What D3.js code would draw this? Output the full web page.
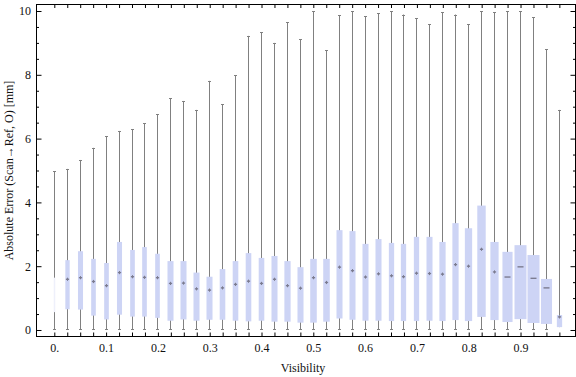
<!DOCTYPE html>
<meta charset="utf-8" />
<title>Absolute error vs visibility</title>
<style>
  body {
    margin: 0;
    background: #fff;
  }

  text {
    font-family: "Liberation Serif", "DejaVu Serif", serif;
    fill: #111;
  }

  .whisker {
    stroke: #808080;
    stroke-width: 1px;
    fill: none;
  }

  .box {
    fill: #cdd4f5;
  }

  .median {
    stroke: #7c7c90;
    stroke-width: 1.4px;
  }

  .frame {
    fill: none;
    stroke: #000;
    stroke-width: 1px;
  }

  .axis path {
    display: none;
  }

  .axis line {
    stroke: #000;
  }
</style>

<body>
  <script src="https://d3js.org/d3.v7.min.js"></script>
  <script>
    var width = 576,
      height = 377;

    // frame edges (pixels)
    var frame = { left: 36.5, right: 575.5, top: 4.5, bottom: 336.5 };

    // one box per visibility bin
    var visibility = [
      0, 0.025, 0.05, 0.075, 0.1, 0.125, 0.15, 0.175, 0.2, 0.225,
      0.25, 0.275, 0.3, 0.325, 0.35, 0.375, 0.4, 0.425, 0.45, 0.475,
      0.5, 0.525, 0.55, 0.575, 0.6, 0.625, 0.65, 0.675, 0.7, 0.725,
      0.75, 0.775, 0.8, 0.825, 0.85, 0.875, 0.9, 0.925, 0.95, 0.975,
    ];

    var whiskerMax = [
      4.98, 5.05, 5.33, 5.71, 6.07, 6.24, 6.3, 6.48, 6.76, 7.26,
      7.18, 6.9, 7.81, 7.07, 7.98, 9.22, 9.33, 9.0, 9.65, 9.11,
      9.99, 8.77, 9.86, 10.0, 9.84, 9.93, 9.99, 9.89, 9.77, 9.58,
      9.96, 9.89, 9.58, 9.99, 9.96, 10.0, 10.0, 9.8, 8.8, 6.9,
    ];

    var upperQuartile = [
      1.64, 2.19, 2.47, 2.23, 2.1, 2.76, 2.51, 2.6, 2.39, 2.16,
      2.16, 1.8, 1.67, 1.91, 2.16, 2.41, 2.26, 2.32, 2.16, 1.97,
      2.23, 2.23, 3.13, 3.1, 2.7, 2.85, 2.73, 2.7, 2.92, 2.92,
      2.76, 3.35, 3.19, 3.9, 2.76, 2.45, 2.66, 2.35, 1.6, 0.47,
    ];

    var median = [
      1.17, 1.59, 1.64, 1.52, 1.39, 1.8, 1.67, 1.65, 1.64, 1.46,
      1.47, 1.29, 1.25, 1.32, 1.43, 1.53, 1.46, 1.59, 1.39, 1.31,
      1.64, 1.49, 1.97, 1.86, 1.66, 1.76, 1.7, 1.67, 1.78, 1.77,
      1.75, 2.05, 2.0, 2.53, 1.82, 1.66, 1.98, 1.62, 1.32, 0.41,
    ];

    var lowerQuartile = [
      0.56, 0.65, 0.64, 0.45, 0.33, 0.48, 0.42, 0.42, 0.38, 0.29,
      0.33, 0.29, 0.32, 0.32, 0.29, 0.27, 0.29, 0.26, 0.26, 0.23,
      0.23, 0.26, 0.36, 0.32, 0.29, 0.29, 0.28, 0.28, 0.28, 0.29,
      0.28, 0.31, 0.28, 0.41, 0.31, 0.25, 0.34, 0.22, 0.19, 0.09,
    ];

    var whiskerMin = [
      0, 0, 0, 0, 0, 0, 0, 0, 0, 0,
      0, 0, 0, 0, 0, 0, 0, 0, 0, 0,
      0, 0, 0, 0, 0, 0, 0, 0, 0, 0,
      0, 0, 0, 0, 0, 0, 0, 0, 0, 0.09,
    ];

    // relative box width (sample weight of the bin)
    var boxWeight = [
      0, 0.27, 0.34, 0.3, 0.3, 0.34, 0.3, 0.3, 0.3, 0.43,
      0.43, 0.43, 0.43, 0.39, 0.39, 0.39, 0.39, 0.43, 0.45, 0.43,
      0.48, 0.48, 0.43, 0.43, 0.43, 0.43, 0.36, 0.36, 0.36, 0.43,
      0.45, 0.45, 0.55, 0.66, 0.64, 0.82, 1.0, 1.0, 0.91, 0.36,
    ];

    var xTickLabels = [0, 0.1, 0.2, 0.3, 0.4, 0.5, 0.6, 0.7, 0.8, 0.9];
    var yTickLabels = [0, 2, 4, 6, 8, 10];

    var rows = visibility.map(function (v, i) {
      return {
        v: v,
        max: whiskerMax[i],
        q3: upperQuartile[i],
        med: median[i],
        q1: lowerQuartile[i],
        min: whiskerMin[i],
        w: boxWeight[i],
      };
    });

    var x = d3
      .scaleLinear()
      .domain([-0.0334, 1.0071])
      .range([frame.left, frame.right]);

    var y = d3
      .scaleLinear()
      .domain([-0.204, 10.204])
      .range([frame.bottom, frame.top]);

    var boxW = d3.scaleLinear().domain([0, 1]).range([1.5, 12]);

    var svg = d3
      .select("body")
      .append("svg")
      .attr("width", width)
      .attr("height", height);

    var box = svg
      .selectAll(".bw")
      .data(rows)
      .enter()
      .append("g")
      .attr("class", "bw");

    // whisker lines
    box
      .append("line")
      .attr("class", "whisker")
      .attr("x1", function (d) { return Math.round(x(d.v)) + 0.5; })
      .attr("x2", function (d) { return Math.round(x(d.v)) + 0.5; })
      .attr("y1", function (d) { return y(d.max); })
      .attr("y2", function (d) { return y(d.min); });

    // caps
    box
      .append("line")
      .attr("class", "whisker")
      .attr("x1", function (d) { return Math.round(x(d.v)) - 1; })
      .attr("x2", function (d) { return Math.round(x(d.v)) + 2; })
      .attr("y1", function (d) { return Math.round(y(d.max)) + 0.5; })
      .attr("y2", function (d) { return Math.round(y(d.max)) + 0.5; });

    box
      .filter(function (d) { return d.min < d.q1 && d.min === 0; })
      .append("line")
      .attr("class", "whisker")
      .attr("x1", function (d) { return Math.round(x(d.v)) - 1; })
      .attr("x2", function (d) { return Math.round(x(d.v)) + 2; })
      .attr("y1", function (d) { return Math.round(y(d.min)) - 0.5; })
      .attr("y2", function (d) { return Math.round(y(d.min)) - 0.5; });

    // boxes (the first bin is almost empty, drawn pale)
    box
      .append("rect")
      .attr("class", "box")
      .attr("x", function (d) { return Math.round(x(d.v)) + 0.5 - boxW(d.w) / 2; })
      .attr("width", function (d) { return boxW(d.w); })
      .attr("y", function (d) { return y(d.q3); })
      .attr("height", function (d) { return y(d.q1) - y(d.q3); })
      .style("fill", function (d) { return d.w === 0 ? "#eef0fb" : null; });

    // median markers
    box
      .filter(function (d) { return d.w > 0; })
      .append("line")
      .attr("class", "median")
      .attr("x1", function (d) { return Math.round(x(d.v)) + 0.5 - (d.w > 0.7 ? 3 : 1.6); })
      .attr("x2", function (d) { return Math.round(x(d.v)) + 0.5 + (d.w > 0.7 ? 3 : 1.6); })
      .attr("y1", function (d) { return y(d.med); })
      .attr("y2", function (d) { return y(d.med); });

    box
      .filter(function (d) { return d.w > 0 && d.w <= 0.7; })
      .append("line")
      .attr("class", "median")
      .style("stroke-width", "1px")
      .attr("x1", function (d) { return Math.round(x(d.v)) + 0.5; })
      .attr("x2", function (d) { return Math.round(x(d.v)) + 0.5; })
      .attr("y1", function (d) { return y(d.med) - 1.6; })
      .attr("y2", function (d) { return y(d.med) + 1.6; });

    // frame
    svg
      .append("rect")
      .attr("class", "frame")
      .attr("x", frame.left)
      .attr("y", frame.top)
      .attr("width", frame.right - frame.left)
      .attr("height", frame.bottom - frame.top);

    var yMinor = d3.range(0, 10.01, 0.5).filter(function (v) {
      return v % 2 !== 0;
    });

    function fmtX(d) {
      return d === 0 ? "0." : d3.format(".1f")(d);
    }

    // left axis: major + minor ticks, inward
    svg
      .append("g")
      .attr("class", "axis")
      .attr("transform", "translate(" + frame.left + ",0)")
      .call(d3.axisLeft(y).tickValues(yTickLabels).tickSize(-5).tickPadding(5.5))
      .call(function (g) {
        g.selectAll("text").style("font-size", "12px").style("font-family", "Liberation Serif");
      });

    svg
      .append("g")
      .attr("class", "axis")
      .attr("transform", "translate(" + frame.left + ",0)")
      .call(d3.axisLeft(y).tickValues(yMinor).tickSize(-2.5).tickFormat(""));

    // right axis, ticks only
    svg
      .append("g")
      .attr("class", "axis")
      .attr("transform", "translate(" + frame.right + ",0)")
      .call(d3.axisRight(y).tickValues(yTickLabels).tickSize(-5).tickFormat(""));

    svg
      .append("g")
      .attr("class", "axis")
      .attr("transform", "translate(" + frame.right + ",0)")
      .call(d3.axisRight(y).tickValues(yMinor).tickSize(-2.5).tickFormat(""));

    // bottom axis: a tick at every box, labels every 0.1
    var xTickPos = d3.scaleLinear()
      .domain(x.domain())
      .range([frame.left + 0.5, frame.right + 0.5]);

    svg
      .append("g")
      .attr("class", "axis")
      .attr("transform", "translate(0," + frame.bottom + ")")
      .call(d3.axisBottom(xTickPos).tickValues(visibility).tickSize(-4).tickFormat(""));

    svg
      .append("g")
      .attr("class", "axis")
      .attr("transform", "translate(0," + frame.bottom + ")")
      .call(d3.axisBottom(xTickPos).tickValues(xTickLabels).tickSize(0).tickPadding(7.3).tickFormat(fmtX))
      .call(function (g) {
        g.selectAll("text").style("font-size", "12px").style("font-family", "Liberation Serif");
      });

    // top axis, ticks only
    svg
      .append("g")
      .attr("class", "axis")
      .attr("transform", "translate(0," + frame.top + ")")
      .call(d3.axisTop(xTickPos).tickValues(visibility).tickSize(-3.5).tickFormat(""));

    // axis titles
    svg
      .append("text")
      .attr("x", 303)
      .attr("y", 372)
      .attr("text-anchor", "middle")
      .style("font-size", "12px")
      .text("Visibility");

    svg
      .append("text")
      .attr("transform", "translate(13," + (frame.top + frame.bottom) / 2 + ") rotate(-90)")
      .attr("text-anchor", "middle")
      .style("font-size", "12px")
      .text("Absolute Error (Scan\u2192Ref, O) [mm]");
  </script>
</body>
